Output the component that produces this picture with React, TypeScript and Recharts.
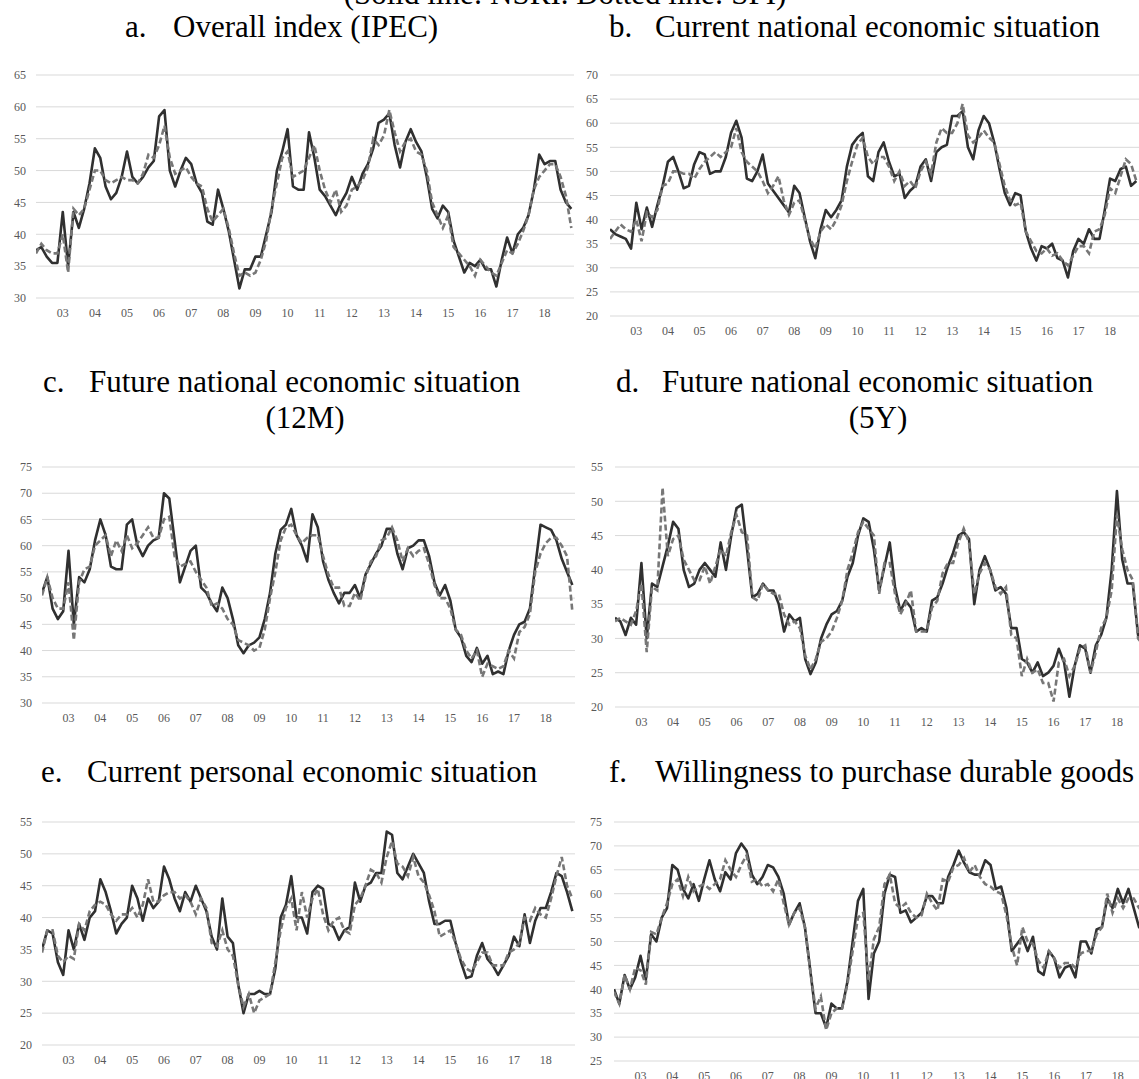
import React from "react";
import { LineChart, Line, XAxis, YAxis, CartesianGrid } from "recharts";

const FONT = '"Liberation Serif", "Times New Roman", serif';

// Readings taken every second month, March 2002 .. November 2018
const MONTHS = Array.from({ length: 101 }, (_, k) => 2002 + (2 + 2 * k) / 12);
const X_MIN = 2002 + 2 / 12;
const X_MAX = 2018 + 11 / 12;
const YEAR_TICKS = [2003, 2004, 2005, 2006, 2007, 2008, 2009, 2010, 2011, 2012, 2013, 2014, 2015, 2016, 2017, 2018];

// a. Overall index (IPEC)
const IPEC_SOLID = [
  37.5, 38, 36.5, 35.5, 35.5, 43.5, 35, 43.5, 41, 44,
  48, 53.5, 52, 47.5, 45.5, 46.5, 49, 53, 49, 48,
  49, 50.5, 51.5, 58.5, 59.5, 50, 47.5, 50, 52, 51,
  48, 46.5, 42, 41.5, 47, 44, 40.5, 36, 31.5, 34.5,
  34.5, 36.5, 36.5, 40, 43.5, 50, 53, 56.5, 47.5, 47,
  47, 56, 52, 47, 46, 44.5, 43, 45, 46.5, 49,
  47, 49.5, 51, 53.5, 57.5, 58, 59, 54, 50.5, 54.5,
  56.5, 54.5, 53, 49, 44, 42.5, 44.5, 43.5, 39, 36.5,
  34, 35.5, 35, 36, 34.5, 34.5, 31.8, 36, 39.5, 37,
  40, 41, 43, 47, 52.5, 51, 51.5, 51.5, 47, 45,
  44,
];
const IPEC_DOTTED = [
  37, 38.5, 37.5, 37, 37, 40, 34, 44, 43, 44,
  47, 50, 50, 48.5, 48, 48.5, 49, 48.5, 48.5, 48,
  49.5, 52.5, 52, 54, 57, 52, 49.5, 50, 50.5, 49,
  48, 47.5, 44, 42, 43, 44, 41, 37, 33.5, 34,
  33.5, 34, 36, 39, 44, 48, 52, 53, 49, 49.5,
  50, 52, 54, 50, 47, 45, 47, 43.5, 44.5, 47,
  47.5, 48.5, 50.5, 55, 54, 55.5, 59.5, 56, 53, 54.5,
  55, 53, 52.5, 50, 45, 43, 41, 43, 38, 37,
  36, 35, 33.5, 36, 35, 34, 33.5, 35.5, 37.5, 37,
  38.5, 40.5, 43, 47, 49, 50, 51, 51, 49, 46,
  41,
];

// b. Current national economic situation
const NATIONAL_NOW_SOLID = [
  38, 37, 36.5, 36, 34, 43.5, 38, 42.5, 38.5, 43,
  47, 52, 53, 50, 46.5, 47, 51.5, 54, 53.5, 49.5,
  50, 50, 53, 58, 60.5, 57, 48.5, 48, 50, 53.5,
  47.5, 46, 44.5, 43, 41.5, 47, 45.5, 40.5, 35.5, 32,
  38, 42, 40.5, 42, 44, 51, 55.5, 57, 58, 49,
  48, 54, 56, 52, 49, 49.5, 44.5, 46, 47, 51,
  52.5, 48, 54, 55, 55.5, 61.5, 61.5, 62.5, 55, 52.5,
  58.5, 61.5, 60, 56, 50.5, 45.5, 43, 45.5, 45, 37.5,
  34, 31.5, 34.5, 34, 35, 32, 31.5, 28, 33.5, 36,
  35, 38, 36, 36, 42, 48.5, 48, 50.5, 51, 47,
  48,
];
const NATIONAL_NOW_DOTTED = [
  36, 37.5, 39, 38, 37.5, 40, 35.5, 41.5, 40.5, 42,
  47, 47.5, 50, 50, 49.5, 49.5, 48.5, 50.5, 52, 53,
  54, 53, 54, 55, 59, 54, 52, 51, 50, 48,
  45.5, 47, 49, 44, 41, 43.5, 44, 40, 36, 34,
  37.5, 39, 38, 40, 43, 48, 52, 55.5, 57, 53,
  51.5, 53, 53, 51, 48, 50, 47, 48, 46.5, 50,
  52, 49.5, 56, 59, 58, 58, 60, 64, 57.5, 56,
  57, 58.5, 57, 56, 51.5, 47, 44, 43, 43.5, 37.5,
  35.5, 33.5, 33, 34, 32.5, 33, 31.5, 30.5, 32.5, 34.5,
  34.5, 33, 37.5, 38, 41, 46.5, 45.5, 49, 52.5, 51.5,
  48,
];

// c. Future national economic situation (12M)
const NATIONAL_12M_SOLID = [
  51, 54, 48, 46, 47.5, 59, 45, 54, 53, 55.5,
  61, 65, 62, 56, 55.5, 55.5, 64, 65, 60, 58,
  60, 61, 61.5, 70, 69, 61, 53, 56, 59, 60,
  52, 51, 49, 47.5, 52, 50, 46, 41, 39.5, 41,
  41.5, 42.5, 46, 51, 58.5, 63, 64, 67, 62, 60,
  57, 66, 63.5, 57, 53.5, 51, 49, 51, 51, 52.5,
  50, 54.5, 56.5, 58.5, 60, 63.2, 63.2, 58.5, 55.5, 59.5,
  60, 61, 61, 58, 53, 50.5, 52.5, 49.5, 44, 42.5,
  39, 37.8, 40.5, 37.5, 39, 35.5, 36, 35.5, 40, 43,
  45, 45.5, 48, 56, 64, 63.5, 63, 61, 57.5, 55,
  52.5,
];
const NATIONAL_12M_DOTTED = [
  50.5, 54, 50, 48, 48, 53, 42, 53, 55.5, 56,
  60, 61, 62, 58, 61, 59, 62, 59.5, 60.5, 62,
  63.5, 61.5, 61.5, 65, 65.5, 58, 56, 56.5, 57, 55,
  53.5, 52, 48.5, 49, 48, 46, 45, 42, 41.5, 41,
  40, 40.5, 44, 50, 55, 61, 63.5, 64, 62, 60.5,
  61.5, 62, 62, 58, 54.5, 52, 52, 48.5, 48.5, 51,
  49.5, 54, 57, 58, 61, 61.5, 63.5, 61, 57, 59.5,
  58, 59, 59.5, 56.5, 52.5, 50, 50, 48, 44, 43,
  40, 38.5, 40, 35, 37.5, 37, 36.5, 37, 40, 38.5,
  43.5, 44.5, 47, 55, 58.5, 60.5, 61.5, 61.5, 60, 58,
  47.5,
];

// d. Future national economic situation (5Y)
const NATIONAL_5Y_SOLID = [
  33, 32.5, 30.5, 33, 32, 41, 30, 38, 37.5, 40.5,
  43.5, 47, 46, 40, 37.5, 38, 40, 41, 40, 39,
  44, 40, 45, 49, 49.5, 43, 36, 36.5, 38, 37,
  37, 35, 31, 33.5, 32.5, 33, 27, 24.8, 26.5, 30,
  32, 33.5, 34, 35.5, 39, 41, 45, 47.5, 47, 43,
  37, 40.5, 44, 37.5, 34, 35.5, 34.5, 31, 31.5, 31,
  35.5, 36, 38, 40.5, 42.5, 45, 45.5, 44.5, 35, 40,
  42, 40, 37, 37.5, 36.5, 31.5, 31.5, 27, 26.5, 25,
  26.5, 24.5, 25, 26, 28.5, 26.5, 21.5, 26, 29, 28.5,
  25, 29, 30.5, 33, 40, 51.5, 41.5, 38, 38, 30.5,
  29.5,
];
const NATIONAL_5Y_DOTTED = [
  32.5, 33, 32.5, 32, 34, 38, 28, 37.5, 37, 52,
  42, 44.5, 45, 41.5, 40, 38.5, 38.5, 40.5, 38, 40.5,
  43, 42, 45.5, 48, 45.5, 45, 36, 35.5, 38, 37,
  36.5, 36.5, 33.5, 32, 32.5, 31.5, 27.5, 25.5, 27, 29.5,
  30, 31, 33, 35.5, 40, 42.5, 45.5, 47, 46, 45,
  36.5, 41, 41, 36.5, 33.5, 35, 37, 31, 31, 31,
  34.5, 35.5, 39.5, 41, 41, 44, 46, 44, 36.5, 39.5,
  41, 40, 37.5, 36.5, 37.5, 30.5, 30, 24.5, 27, 25,
  25.5, 23.5, 23.5, 20.8, 26.5, 27, 24.5, 26, 28.5, 29,
  25, 28, 31.5, 33, 37, 48, 43, 40, 38.5, 30,
  29,
];

// e. Current personal economic situation
const PERSONAL_SOLID = [
  35, 38, 37.5, 33, 31, 38, 35, 39, 36.5, 40,
  41, 46, 44, 41, 37.5, 39, 40, 45, 43, 39.5,
  43, 41.5, 42.5, 48, 46, 43, 41, 44, 42.5, 45,
  43, 41, 37, 35, 43, 37, 36, 29.5, 25, 28,
  28, 28.5, 28, 28, 32, 40, 42, 46.5, 40, 40,
  37.5, 44, 45, 44.5, 39, 38.5, 36.5, 38, 38.5, 45.5,
  42.5, 45, 45.5, 47, 47, 53.5, 53, 47, 46, 48,
  50, 48.5, 47, 42.5, 39, 39, 39.5, 39.5, 36, 33,
  30.5, 30.8, 34, 36, 33.5, 32.5, 31, 32.5, 34, 37,
  35.5, 40.5, 36, 39.5, 41.5, 41.5, 44, 47, 46.5, 44,
  41,
];
const PERSONAL_DOTTED = [
  34.5, 38, 38, 34, 33, 34, 33.5, 39, 38, 41,
  42, 42.5, 42, 40.5, 39.5, 40.5, 40.5, 41.5, 40, 42,
  46, 42.5, 42.5, 43.5, 44, 44, 43, 43.5, 42.5, 40.5,
  43, 41.5, 36, 35.5, 38, 35, 34, 29.5, 26, 28,
  25, 27, 27.5, 28, 33, 38, 41.5, 43, 38, 44,
  40, 43, 44.5, 40.5, 38, 39.5, 40, 38, 37.5, 42,
  43, 45, 47.5, 47, 45.5, 49.5, 52, 48.5, 48, 46.5,
  49.5, 46.5, 45.5, 43.5, 41, 37, 37.5, 38, 36, 33.5,
  32, 31.5, 33, 34.5, 34.5, 32.5, 32.5, 32.5, 34.5, 35,
  36, 40, 39.5, 41.5, 40.5, 40, 43, 46.5, 49.5, 45,
  43,
];

// f. Willingness to purchase durable goods
const DURABLES_SOLID = [
  40, 37, 43, 40, 42.5, 47, 42, 51.5, 50, 55,
  57, 66, 65, 61, 59, 62, 58.5, 63, 67, 63,
  60.5, 64.5, 63, 68.5, 70.5, 69, 64, 62, 63.5, 66,
  65.5, 63.5, 60, 53.5, 56, 58, 53, 44, 35, 35,
  32, 37, 36, 36, 41.5, 50, 58.5, 61, 38, 47.5,
  50, 60, 64, 63.5, 56, 56.5, 54, 55, 56, 59.5,
  59.5, 58, 58, 63.5, 66, 69, 66.5, 64.5, 64, 64,
  67, 66, 61, 61.5, 57, 48, 49.5, 51, 48, 51,
  43.8, 43, 48, 46.5, 42.5, 44.5, 45, 42.5, 50, 50,
  47.5, 52.5, 53, 59, 57, 61, 58, 61, 57, 53,
  52,
];
const DURABLES_DOTTED = [
  39.5, 37, 43, 40, 44.5, 44, 41, 52, 51.5, 55,
  58, 62, 63, 59.5, 63.5, 60.5, 61.5, 62, 61, 62,
  63, 67, 65, 63.5, 66, 68, 62.5, 63, 61.5, 62,
  60.5, 63, 58, 53.5, 56, 57, 53, 44, 36, 38.5,
  31.5, 35, 36, 36, 41, 48, 55, 56, 42, 50.5,
  53, 62, 64, 58, 57, 58, 56, 55, 55.5, 60,
  58, 56.5, 63, 62.5, 65.5, 66, 67.5, 64.5, 66, 63.5,
  62, 61.5, 60.5, 60, 55.5, 49, 45, 53, 50, 49.5,
  46, 44.5, 48, 46.5, 44.5, 45.5, 45.5, 44.5, 47.5, 48,
  48, 51.5, 53, 60, 56, 59, 57, 59, 59, 57,
  56,
];

const TICKS_30_65 = [30, 35, 40, 45, 50, 55, 60, 65];
const TICKS_20_70 = [20, 25, 30, 35, 40, 45, 50, 55, 60, 65, 70];
const TICKS_30_75 = [30, 35, 40, 45, 50, 55, 60, 65, 70, 75];
const TICKS_20_55 = [20, 25, 30, 35, 40, 45, 50, 55];
const TICKS_25_75 = [25, 30, 35, 40, 45, 50, 55, 60, 65, 70, 75];

const tickStyle = { fill: "#595959", fontSize: 12, fontFamily: FONT };

type PanelProps = {
  left: number;
  top: number;
  plotW: number;
  plotH: number;
  yTicks: number[];
  solid: number[];
  dotted: number[];
  gap: number;
};

function Panel({ left, top, plotW, plotH, yTicks, solid, dotted, gap }: PanelProps) {
  const yAxisW = 40;
  const mTop = 6;
  const xAxisH = 30;
  const data = MONTHS.map((t, i) => ({ t, s: solid[i], d: dotted[i] }));
  return (
    <div style={{ position: "absolute", left: left - yAxisW, top: top - mTop }}>
      <LineChart
        width={yAxisW + plotW}
        height={mTop + plotH + xAxisH}
        data={data}
        margin={{ top: mTop, right: 0, bottom: 0, left: 0 }}
      >
        <CartesianGrid vertical={false} stroke="#d9d9d9" strokeWidth={1} />
        <XAxis
          dataKey="t"
          type="number"
          domain={[X_MIN, X_MAX]}
          ticks={YEAR_TICKS}
          interval={0}
          allowDataOverflow
          height={xAxisH}
          axisLine={false}
          tickLine={false}
          tickSize={0}
          tickMargin={10}
          tick={tickStyle}
          tickFormatter={(v: number) => String(v).slice(2)}
        />
        <YAxis
          type="number"
          domain={[yTicks[0], yTicks[yTicks.length - 1]]}
          ticks={yTicks}
          interval={0}
          width={yAxisW}
          axisLine={false}
          tickLine={false}
          tickSize={0}
          tickMargin={gap}
          tick={tickStyle}
        />
        <Line
          dataKey="s"
          type="linear"
          stroke="#303030"
          strokeWidth={2.6}
          strokeLinejoin="round"
          dot={false}
          isAnimationActive={false}
        />
        <Line
          dataKey="d"
          type="linear"
          stroke="#777777"
          strokeWidth={2.6}
          strokeDasharray="6 3"
          dot={false}
          isAnimationActive={false}
        />
      </LineChart>
    </div>
  );
}

const titleStyle = { fontFamily: FONT, fontSize: 31, fill: "#000" };

export default function App() {
  return (
    <div
      style={{
        position: "absolute",
        left: 0,
        top: 0,
        width: 1139,
        height: 1079,
        overflow: "hidden",
        background: "#fff",
      }}
    >
      <Panel left={36} top={75} plotW={538} plotH={223} yTicks={TICKS_30_65} solid={IPEC_SOLID} dotted={IPEC_DOTTED} gap={10} />
      <Panel left={610} top={75} plotW={529} plotH={241} yTicks={TICKS_20_70} solid={NATIONAL_NOW_SOLID} dotted={NATIONAL_NOW_DOTTED} gap={12} />
      <Panel left={42} top={467} plotW={533} plotH={236} yTicks={TICKS_30_75} solid={NATIONAL_12M_SOLID} dotted={NATIONAL_12M_DOTTED} gap={10} />
      <Panel left={615} top={467} plotW={531} plotH={240} yTicks={TICKS_20_55} solid={NATIONAL_5Y_SOLID} dotted={NATIONAL_5Y_DOTTED} gap={12} />
      <Panel left={42} top={822} plotW={533} plotH={223} yTicks={TICKS_20_55} solid={PERSONAL_SOLID} dotted={PERSONAL_DOTTED} gap={10} />
      <Panel left={614} top={822} plotW={533} plotH={239} yTicks={TICKS_25_75} solid={DURABLES_SOLID} dotted={DURABLES_DOTTED} gap={12} />

      <svg
        width={1139}
        height={1079}
        style={{ position: "absolute", left: 0, top: 0, pointerEvents: "none" }}
      >
        <text x={565} y={4} textAnchor="middle" style={titleStyle}>
          (Solid line: NSRI. Dotted line: SFI)
        </text>

        <text x={125} y={37} style={titleStyle}>a.</text>
        <text x={173} y={37} style={titleStyle}>Overall index (IPEC)</text>
        <text x={609} y={37} style={titleStyle}>b.</text>
        <text x={655} y={37} style={titleStyle}>Current national economic situation</text>

        <text x={43} y={392} style={titleStyle}>c.</text>
        <text x={89} y={392} style={titleStyle}>Future national economic situation</text>
        <text x={305} y={428} textAnchor="middle" style={titleStyle}>(12M)</text>
        <text x={616} y={392} style={titleStyle}>d.</text>
        <text x={662} y={392} style={titleStyle}>Future national economic situation</text>
        <text x={878} y={428} textAnchor="middle" style={titleStyle}>(5Y)</text>

        <text x={41} y={782} style={titleStyle}>e.</text>
        <text x={87} y={782} style={titleStyle}>Current personal economic situation</text>
        <text x={609} y={782} style={titleStyle}>f.</text>
        <text x={655} y={782} style={titleStyle}>Willingness to purchase durable goods</text>
      </svg>
    </div>
  );
}
